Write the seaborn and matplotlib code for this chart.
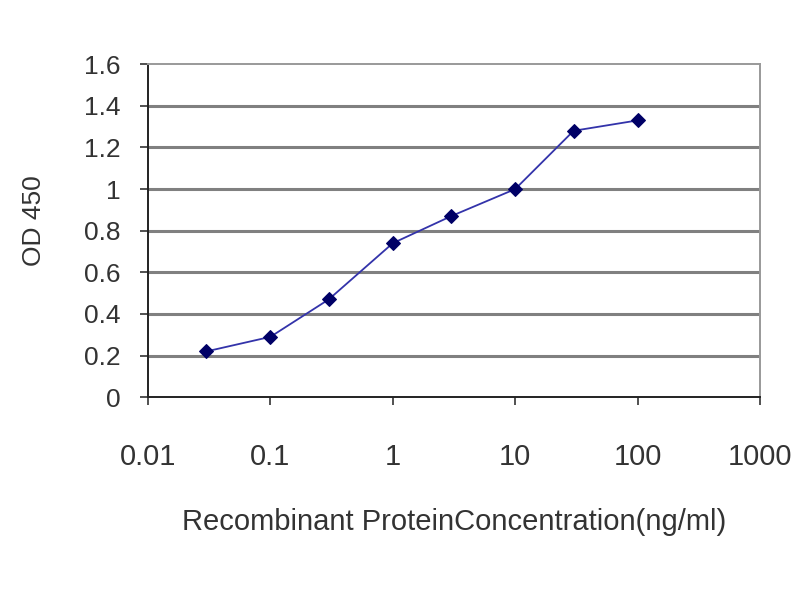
import matplotlib
matplotlib.use("Agg")
import matplotlib.pyplot as plt
import seaborn as sns
import pandas as pd
from matplotlib.ticker import FixedLocator, FixedFormatter, NullLocator

# concentrations (ng/ml) and OD 450 readings
conc = [0.03, 0.1, 0.3, 1, 3, 10, 30, 100]
od450 = [0.22, 0.29, 0.47, 0.74, 0.87, 1.0, 1.28, 1.33]
x_ticks = [0.01, 0.1, 1, 10, 100, 1000]
x_tick_labels = ["0.01", "0.1", "1", "10", "100", "1000"]
y_ticks = [0, 0.2, 0.4, 0.6, 0.8, 1, 1.2, 1.4, 1.6]
y_tick_labels = ["0", "0.2", "0.4", "0.6", "0.8", "1", "1.2", "1.4", "1.6"]

df = pd.DataFrame({"conc": conc, "od": od450})

sns.set_style("white")
plt.rcParams["font.family"] = ["Liberation Sans", "DejaVu Sans"]

fig = plt.figure(figsize=(8, 6), dpi=100)
ax = fig.add_axes([0.185, 0.338, 0.765, 0.555])

# gray horizontal gridlines like the old Excel chart
for yv in y_ticks[1:-1]:
    ax.axhline(yv, color="#808080", lw=2.2, zorder=1)

sns.lineplot(data=df, x="conc", y="od", ax=ax, color="#3333aa", lw=1.3,
             marker="D", markersize=7, markerfacecolor="#000066",
             markeredgecolor="#000066", zorder=3)

ax.set_xscale("log")
ax.set_xlim(0.01, 1000)
ax.set_ylim(0, 1.6)
ax.xaxis.set_major_locator(FixedLocator(x_ticks))
ax.xaxis.set_major_formatter(FixedFormatter(x_tick_labels))
ax.xaxis.set_minor_locator(NullLocator())
ax.yaxis.set_major_locator(FixedLocator(y_ticks))
ax.yaxis.set_major_formatter(FixedFormatter(y_tick_labels))

ax.tick_params(axis="x", direction="out", length=6, width=1.2, color="#333333",
               pad=27, labelsize=21, labelcolor="#333333", bottom=True)
ax.tick_params(axis="y", direction="out", length=6, width=1.2, color="#333333",
               pad=14, labelsize=19, labelcolor="#333333", left=True)

for side in ["left", "bottom"]:
    ax.spines[side].set_color("#222222")
    ax.spines[side].set_linewidth(1.4)
for side in ["top", "right"]:
    ax.spines[side].set_color("#999999")
    ax.spines[side].set_linewidth(1.4)

ax.set_xlabel("Recombinant ProteinConcentration(ng/ml)", fontsize=21,
              color="#333333", va="center")
ax.xaxis.set_label_coords(0.5, -0.375)
ax.set_ylabel("OD 450", fontsize=19, color="#333333", va="center")
ax.yaxis.set_label_coords(-0.186, 0.53)

fig.savefig("out.png", dpi=100)
